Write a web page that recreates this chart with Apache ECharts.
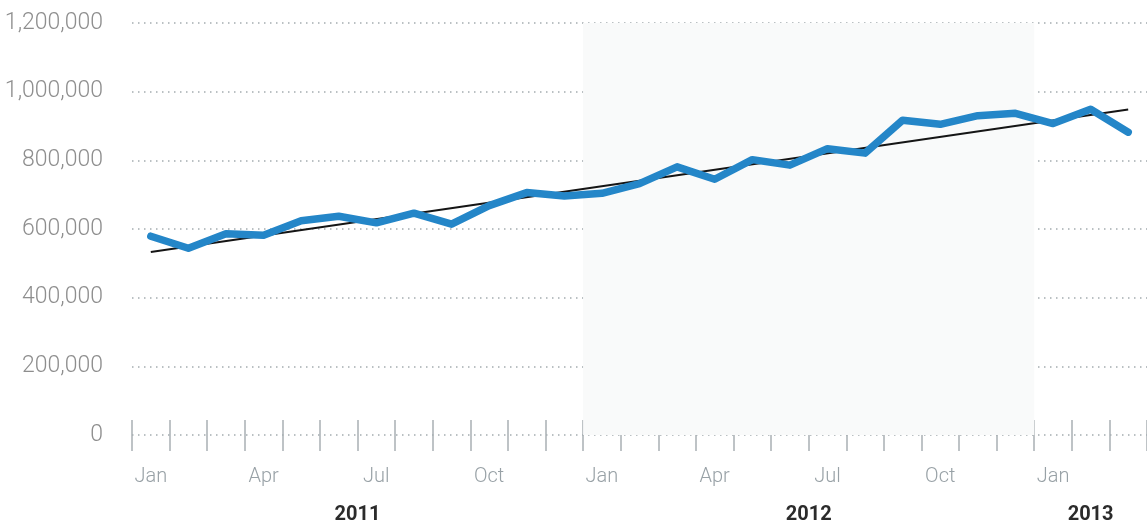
<!DOCTYPE html>
<html>
<head>
<meta charset="utf-8">
<script src="https://cdn.jsdelivr.net/npm/echarts@6/dist/echarts.min.js"></script>
<style>
	html, body { margin: 0; padding: 0; background: #fff; }
	#chart { width: 1147px; height: 527px; }
</style>
</head>
<body>
<div id="chart"></div>
<script>
// months on the x axis, Jan 2011 .. Mar 2013
var months = [
	'2011-01', '2011-02', '2011-03', '2011-04', '2011-05', '2011-06',
	'2011-07', '2011-08', '2011-09', '2011-10', '2011-11', '2011-12',
	'2012-01', '2012-02', '2012-03', '2012-04', '2012-05', '2012-06',
	'2012-07', '2012-08', '2012-09', '2012-10', '2012-11', '2012-12',
	'2013-01', '2013-02', '2013-03',
]
var monthNames = ['Jan', 'Feb', 'Mar', 'Apr', 'May', 'Jun', 'Jul', 'Aug', 'Sep', 'Oct', 'Nov', 'Dec']
var years = ['2011', '2012', '2013']
var shadedYear = '2012'

// monthly values
var values = [
	579000, 544000, 586000, 582000, 624000, 637000,
	618000, 646000, 614000, 668000, 706000, 696000,
	704000, 732000, 781000, 745000, 802000, 786000,
	834000, 821000, 917000, 905000, 930000, 937000,
	907000, 949000, 882000,
]

// straight trend line, first and last month
var trend = [['2011-01', 533000], ['2013-03', 948000]]

var yTicks = [0, 200000, 400000, 600000, 800000, 1000000, 1200000]

// where each year starts / ends on the month axis
function yearSpan(y) {
	var first = -1, last = -1
	months.forEach(function(m, i) {
		if (m.slice(0, 4) === y) {
			if (first < 0) first = i
			last = i
		}
	})
	return [first, last + 1]
}
var yearCenters = years.map(function(y) {
	var s = yearSpan(y)
	return (s[0] + s[1]) / 2
})

var chart = echarts.init(document.getElementById('chart'))

var tickColor = '#a9b0b4'
var font = 'Roboto, "DejaVu Sans", sans-serif'

chart.setOption({
	animation: false,
	grid: {
		left: 132,
		right: 0,
		top: 23,
		bottom: 92,
	},
	xAxis: [
		{
			type: 'category',
			data: months,
			boundaryGap: true,
			axisLine: { show: false },
			axisTick: {
				show: true,
				interval: 0,
				length: 16,
				lineStyle: { color: tickColor, width: 1.5 },
			},
			axisLabel: {
				interval: 2,
				margin: 32,
				color: '#98a1a6',
				fontFamily: font,
				fontWeight: 300,
				fontSize: 20,
				formatter: function(v) {
					return monthNames[parseInt(v.slice(5), 10) - 1]
				},
			},
			splitLine: { show: false },
		},
		{
			// same axis again so the ticks cross the baseline
			type: 'category',
			data: months,
			boundaryGap: true,
			position: 'bottom',
			axisLine: { show: false },
			axisTick: {
				show: true,
				interval: 0,
				inside: true,
				length: 15,
				lineStyle: { color: tickColor, width: 1.5 },
			},
			axisLabel: { show: false },
			splitLine: { show: false },
		},
		{
			// year labels, centred on each year's span
			type: 'value',
			min: 0,
			max: months.length,
			position: 'bottom',
			axisLine: { show: false },
			axisTick: { show: false },
			splitLine: { show: false },
			axisLabel: {
				customValues: yearCenters,
				margin: 70,
				color: '#2b2b2b',
				fontFamily: font,
				fontWeight: 'bold',
				fontSize: 20,
				formatter: function(v) {
					var i = yearCenters.indexOf(v)
					return i >= 0 ? years[i] : ''
				},
			},
		},
	],
	yAxis: {
		type: 'value',
		min: 0,
		max: yTicks[yTicks.length - 1],
		interval: yTicks[1] - yTicks[0],
		axisLine: { show: false },
		axisTick: { show: false },
		axisLabel: {
			margin: 29,
			color: '#8e8e8e',
			fontFamily: font,
			fontWeight: 300,
			fontSize: 23,
			formatter: function(v) {
				return v.toLocaleString('en-US')
			},
		},
		splitLine: {
			show: true,
			lineStyle: { color: '#a4acb0', width: 1.5, type: [1.5, 4.5] },
		},
	},
	series: [
		{
			name: 'shade',
			type: 'line',
			xAxisIndex: 2,
			data: [],
			silent: true,
			markArea: {
				silent: true,
				itemStyle: { color: '#f9fafa' },
				data: [[{ xAxis: yearSpan(shadedYear)[0] }, { xAxis: yearSpan(shadedYear)[1] }]],
			},
			z: 0,
		},
		{
			name: 'trend',
			type: 'line',
			data: trend,
			showSymbol: false,
			lineStyle: { color: '#151515', width: 2 },
			z: 2,
		},
		{
			name: 'value',
			type: 'line',
			data: values,
			showSymbol: false,
			lineStyle: { color: '#2486c8', width: 7.5, cap: 'round', join: 'round' },
			z: 3,
		},
	],
})
</script>
</body>
</html>
